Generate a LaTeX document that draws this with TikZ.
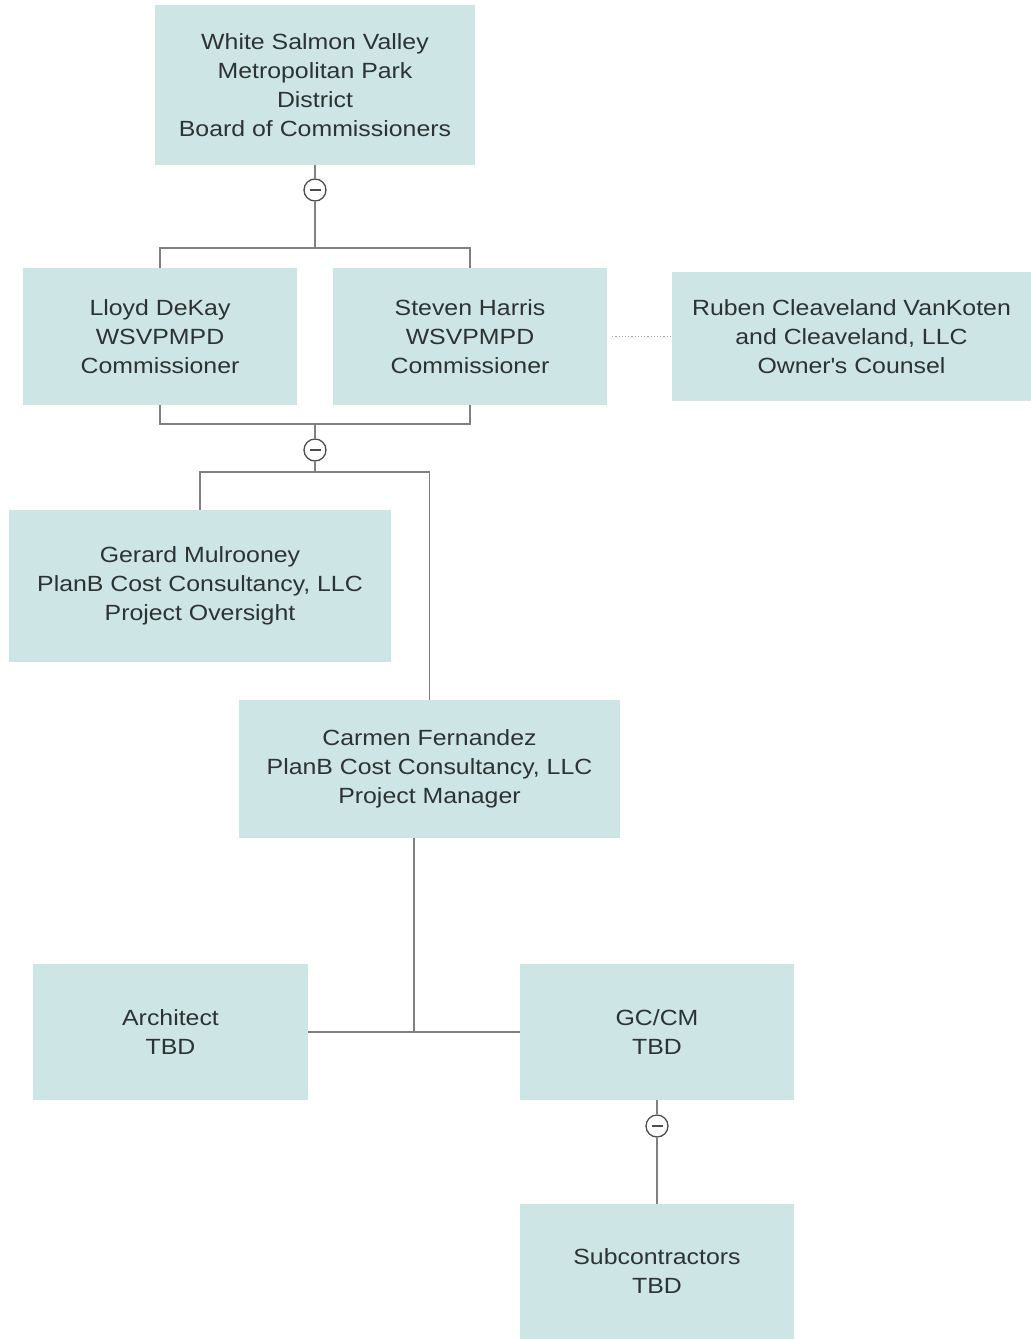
\documentclass[tikz,border=0pt]{standalone}
\usepackage{fontspec}
\setmainfont{Liberation Sans}[FakeStretch=1.13]
\definecolor{boxfill}{RGB}{206,229,230}
\definecolor{txt}{RGB}{45,50,50}
\definecolor{ln}{RGB}{128,128,128}
\begin{document}
\begin{tikzpicture}[x=1pt,y=-1pt,
  box/.style={fill=boxfill,draw=none,inner sep=0pt,align=center,text=txt,
    font=\fontsize{22}{29}\selectfont},
  conn/.style={draw=ln,line width=1.6pt},
  dotconn/.style={draw=ln!70,line width=1.2pt,dotted},
  toggle/.style={circle,draw=ln!60!black,line width=1.3pt,fill=white,minimum size=22pt,inner sep=0pt}]
\useasboundingbox (0,0) rectangle (1031,1339);
% boxes
\node[box,minimum width=320pt,minimum height=160pt] (board) at (315,85) {White Salmon Valley\\Metropolitan Park\\District\\Board of Commissioners};
\node[box,minimum width=274pt,minimum height=137pt] (lloyd) at (160,336.5) {Lloyd DeKay\\WSVPMPD\\Commissioner};
\node[box,minimum width=274pt,minimum height=137pt] (steven) at (470,336.5) {Steven Harris\\WSVPMPD\\Commissioner};
\node[box,minimum width=359pt,minimum height=129pt] (ruben) at (851.5,336.5) {Ruben Cleaveland VanKoten\\and Cleaveland, LLC\\Owner\textquotesingle s Counsel};
\node[box,minimum width=382pt,minimum height=152pt] (gerard) at (200,586) {Gerard Mulrooney\\PlanB Cost Consultancy, LLC\\Project Oversight};
\node[box,minimum width=381pt,minimum height=138pt] (carmen) at (429.5,769) {Carmen Fernandez\\PlanB Cost Consultancy, LLC\\Project Manager};
\node[box,minimum width=275pt,minimum height=136pt] (arch) at (170.5,1032) {Architect\\TBD};
\node[box,minimum width=274pt,minimum height=136pt] (gc) at (657,1032) {GC/CM\\TBD};
\node[box,minimum width=274pt,minimum height=135pt] (sub) at (657,1271.5) {Subcontractors\\TBD};
% junction coordinates
\coordinate (j1) at (315,248);
\coordinate (j2) at (315,424);
\coordinate (j3) at (315,472);
\coordinate (j4) at (414,1032);
% toggles
\node[toggle] (t1) at (315,190) {};
\node[toggle] (t2) at (315,450) {};
\node[toggle] (t3) at (657,1126) {};
% connectors
\draw[conn] (board.south) -- (t1.north);
\draw[conn] (t1.south) -- (j1);
\draw[conn] (lloyd.north) |- (j1) -| (steven.north);
\draw[conn] (lloyd.south) |- (j2) -| (steven.south);
\draw[conn] (j2) -- (t2.north);
\draw[conn] (t2.south) -- (j3);
\draw[conn] (gerard.north) |- (j3) -| (carmen.north);
\draw[conn] (carmen.south -| j4) -- (j4);
\draw[conn] (arch.east) -- (gc.west);
\draw[conn] (gc.south) -- (t3.north);
\draw[conn] (t3.south) -- (sub.north);
\draw[dotconn] ([xshift=5pt]steven.east) -- (ruben.west);
% minus signs
\foreach \t in {t1,t2,t3} \draw[draw=ln!60!black,line width=1.6pt] ([xshift=-5.5pt]\t.center) -- ([xshift=5.5pt]\t.center);
\end{tikzpicture}
\end{document}
